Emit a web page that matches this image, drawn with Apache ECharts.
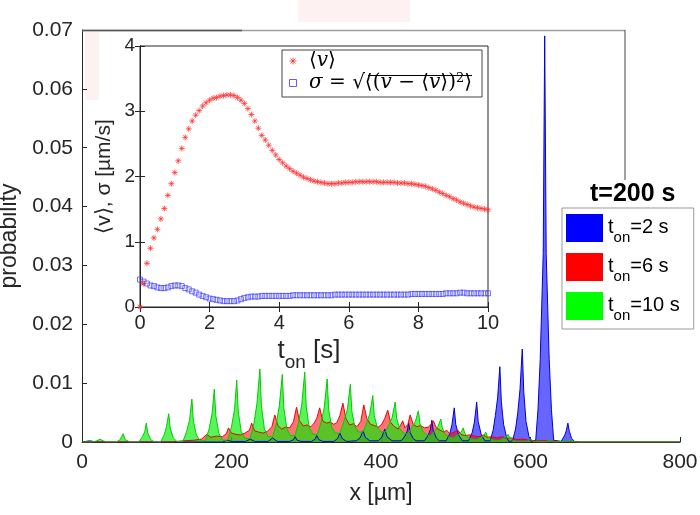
<!DOCTYPE html>
<html><head><meta charset="utf-8">
<script src="https://cdn.jsdelivr.net/npm/echarts@6/dist/echarts.min.js"></script>
<style>html,body{margin:0;padding:0;background:#fff}#c{width:700px;height:515px}</style>
</head><body><div id="c"></div>
<script>
// ---------- data ----------
const seriesNames = ['t_on=2 s', 't_on=6 s', 't_on=10 s'];
const legendTitle = 't=200 s';

// x [µm], probability  (t_on = 2 s)
const blueData = [
[0,0],[5,0.0001],[10,0.0002],[15,0.0001],[22,0],[180,0],
[188,0],[194,0.0003],[200,0.0001],
[219,0.0001],[225,0.0005],[231,0.0001],
[249,0.0001],[255,0.0007],[261,0.0001],
[278,0.0001],[283,0.0004],[285,0.0009],[288,0.0003],[293,0.0001],
[307,0.0001],[312,0.0005],[314,0.0011],[317,0.0004],[322,0.0001],
[337,0.0001],[342,0.0006],[345,0.0015],[348,0.0006],[354,0.0001],
[367,0.0002],[372,0.0007],[376,0.0019],[379,0.0008],[385,0.0002],
[396,0.0002],[401,0.0008],[405,0.0022],[408,0.0009],[415,0.0002],
[427,0.0002],[432,0.0010],[435,0.0018],[437,0.0032],[439,0.0016],[443,0.0006],[447,0.0002],
[458,0.0002],[463,0.0011],[466,0.0021],[468,0.0037],[470,0.0019],[474,0.0007],[478,0.0002],
[487,0.0002],[492,0.0014],[495,0.0030],[498,0.0058],[500,0.0030],[504,0.0011],[509,0.0002],
[517,0.0002],[522,0.0016],[525,0.0034],[528,0.0068],[530,0.0035],[534,0.0013],[539,0.0002],
[546,0.0002],[550,0.0020],[553,0.0045],[556,0.0075],[559,0.0128],[561,0.0068],[564,0.0030],[568,0.0008],[571,0.0001],
[576,0.0002],[580,0.0022],[583,0.0050],[586,0.0090],[589,0.0158],[591,0.0085],[594,0.0035],[598,0.0009],[601,0.0001],
[607,0.0003],[610,0.0055],[613,0.0140],[617,0.0320],[619,0.0690],[621,0.0320],[625,0.0140],[628,0.0055],[631,0.0003],
[641,0.0001],[646,0.0012],[648,0.0020],[650,0.0032],[652,0.0018],[655,0.0006],[659,0.0001],
[665,0],[800,0]
];

// t_on = 6 s
const redData = [
[0,0],[120,0],[135,0.0002],[150,0.0003],[160,0.0005],[167,0.0013],[172,0.0008],[180,0.0010],[188,0.0009],
[193,0.0014],[196,0.0024],[200,0.0015],[206,0.0013],[212,0.0012],[218,0.0015],[224,0.0020],[227,0.0032],
[231,0.0019],[236,0.0017],[242,0.0015],[248,0.0018],[254,0.0026],[258,0.0046],[262,0.0028],[267,0.0022],
[272,0.0025],[278,0.0024],[283,0.0035],[287,0.0059],[291,0.0036],[296,0.0027],[301,0.0029],[306,0.0026],
[310,0.0031],[314,0.0040],[318,0.0058],[322,0.0036],[327,0.0032],[332,0.0034],[337,0.0030],[341,0.0033],
[345,0.0045],[349,0.0066],[353,0.0040],[358,0.0029],[363,0.0031],[368,0.0026],[373,0.0035],[377,0.0063],
[381,0.0040],[386,0.0030],[391,0.0028],[396,0.0025],[401,0.0030],[405,0.0040],[409,0.0054],[413,0.0033],
[418,0.0026],[423,0.0022],[426,0.0028],[429,0.0036],[432,0.0024],[436,0.0030],[439,0.0046],[443,0.0030],
[448,0.0026],[453,0.0028],[458,0.0024],[463,0.0025],[467,0.0030],[470,0.0036],[474,0.0024],[479,0.0020],
[484,0.0017],[488,0.0020],[492,0.0014],[497,0.0016],[503,0.0020],[507,0.0013],[512,0.0011],[519,0.0012],
[525,0.0010],[531,0.0009],[537,0.0012],[542,0.0008],[548,0.0009],[555,0.0007],[562,0.0009],[568,0.0006],
[575,0.0007],[582,0.0004],[590,0.0005],[598,0.0003],[610,0.0002],[625,0.0002],[640,0.0001],[660,0],[800,0]
];

// t_on = 10 s
const greenData = [
[0,0],[14,0],[20,0.0002],[24,0.0005],[28,0.0002],[34,0],
[46,0],[51,0.0004],[55,0.0014],[58,0.0004],[64,0],
[76,0],[81,0.0009],[84,0.0018],[86,0.0032],[88,0.0015],[92,0.0004],[97,0],
[105,0],[110,0.0012],[113,0.0026],[116,0.0048],[118,0.0024],[122,0.0007],[127,0.0001],
[135,0.0001],[140,0.0018],[144,0.0038],[147,0.0073],[149,0.0036],[153,0.0012],[158,0.0002],
[165,0.0002],[170,0.0022],[174,0.0048],[177,0.0090],[179,0.0045],[183,0.0015],[188,0.0003],
[195,0.0003],[200,0.0026],[204,0.0055],[207,0.0105],[209,0.0052],[213,0.0018],[218,0.0006],
[225,0.0006],[230,0.0032],[234,0.0065],[238,0.0124],[240,0.0062],[244,0.0022],[249,0.0009],
[255,0.0009],[260,0.0032],[264,0.0062],[268,0.0115],[270,0.0058],[274,0.0022],[279,0.0011],
[285,0.0011],[290,0.0034],[294,0.0064],[298,0.0119],[300,0.0060],[304,0.0024],[309,0.0013],
[315,0.0013],[320,0.0034],[324,0.0058],[328,0.0107],[330,0.0055],[334,0.0025],[339,0.0015],
[345,0.0015],[350,0.0034],[355,0.0055],[359,0.0098],[361,0.0052],[365,0.0026],[370,0.0017],
[376,0.0017],[381,0.0033],[385,0.0048],[389,0.0079],[391,0.0045],[395,0.0025],[400,0.0017],
[406,0.0017],[411,0.0030],[415,0.0042],[419,0.0068],[421,0.0040],[425,0.0023],[430,0.0015],
[436,0.0014],[441,0.0025],[446,0.0035],[450,0.0053],[452,0.0032],[456,0.0018],[461,0.0012],
[467,0.0011],[472,0.0019],[476,0.0026],[480,0.0039],[482,0.0024],[486,0.0013],[491,0.0008],
[497,0.0007],[503,0.0012],[507,0.0016],[510,0.0024],[512,0.0015],[516,0.0008],[521,0.0005],
[528,0.0004],[534,0.0008],[538,0.0011],[540,0.0017],[542,0.0010],[546,0.0005],[551,0.0003],
[558,0.0002],[564,0.0006],[568,0.0009],[570,0.0013],[572,0.0008],[576,0.0003],[581,0.0001],
[595,0.0001],[600,0.0005],[604,0.0001],[620,0],[626,0.0003],[632,0],[655,0.0002],[662,0],[800,0]
];

// inset: t_on [s], <v> and sigma [µm/s]
const tOn = [0,0.1,0.2,0.3,0.4,0.5,0.6,0.7,0.8,0.9,1,1.1,1.2,1.3,1.4,1.5,1.6,1.7,1.8,1.9,
2,2.1,2.2,2.3,2.4,2.5,2.6,2.7,2.8,2.9,3,3.1,3.2,3.3,3.4,3.5,3.6,3.7,3.8,3.9,
4,4.1,4.2,4.3,4.4,4.5,4.6,4.7,4.8,4.9,5,5.1,5.2,5.3,5.4,5.5,5.6,5.7,5.8,5.9,
6,6.1,6.2,6.3,6.4,6.5,6.6,6.7,6.8,6.9,7,7.1,7.2,7.3,7.4,7.5,7.6,7.7,7.8,7.9,
8,8.1,8.2,8.3,8.4,8.5,8.6,8.7,8.8,8.9,9,9.1,9.2,9.3,9.4,9.5,9.6,9.7,9.8,9.9,10];
const meanV = [0,0.36,0.67,0.9,1.06,1.19,1.35,1.51,1.71,1.89,
2.06,2.24,2.43,2.6,2.73,2.85,2.94,3.01,3.08,3.13,
3.17,3.2,3.21,3.23,3.24,3.25,3.25,3.24,3.21,3.17,
3.12,3.04,2.95,2.85,2.74,2.63,2.56,2.48,2.4,2.33,
2.26,2.21,2.16,2.12,2.08,2.05,2.02,1.99,1.97,1.95,
1.93,1.92,1.91,1.9,1.89,1.89,1.89,1.9,1.9,1.91,
1.91,1.91,1.92,1.92,1.92,1.92,1.92,1.92,1.92,1.91,
1.91,1.91,1.91,1.91,1.9,1.9,1.9,1.89,1.89,1.88,
1.87,1.86,1.85,1.83,1.81,1.79,1.76,1.74,1.71,1.69,
1.66,1.64,1.61,1.59,1.57,1.55,1.53,1.52,1.51,1.5,1.49];
const sigmaV = [0.42,0.39,0.36,0.33,0.32,0.30,0.29,0.29,0.30,0.32,
0.33,0.33,0.32,0.29,0.27,0.24,0.22,0.19,0.17,0.15,
0.13,0.12,0.11,0.10,0.09,0.09,0.09,0.09,0.10,0.12,
0.14,0.15,0.16,0.16,0.16,0.17,0.17,0.17,0.17,0.17,
0.17,0.17,0.17,0.17,0.18,0.18,0.18,0.18,0.18,0.18,
0.18,0.18,0.18,0.18,0.18,0.18,0.19,0.19,0.19,0.19,
0.19,0.19,0.19,0.19,0.19,0.19,0.19,0.19,0.19,0.19,
0.19,0.19,0.19,0.19,0.19,0.19,0.19,0.19,0.20,0.20,
0.20,0.20,0.20,0.20,0.20,0.20,0.20,0.20,0.21,0.21,
0.21,0.21,0.22,0.22,0.21,0.21,0.21,0.21,0.21,0.21,0.21];

const xTicksMain = [0, 200, 400, 600, 800];
const yTicksMain = [0, 0.01, 0.02, 0.03, 0.04, 0.05, 0.06, 0.07];
const xTicksInset = [0, 2, 4, 6, 8, 10];
const yTicksInset = [0, 1, 2, 3, 4];

// ---------- chart ----------
const FONT = 'Liberation Sans';
const SERIF = 'DejaVu Serif';
const AX = '#262626';
const chart = echarts.init(document.getElementById('c'), null, {renderer: 'canvas'});

const pair = (xs, ys) => xs.map((x, i) => [x, ys[i]]);
const legendRich = {
  t: {fontSize: 20, fontFamily: FONT, color: '#000', lineHeight: 22, verticalAlign: 'top'},
  s: {fontSize: 15, fontFamily: FONT, color: '#000', lineHeight: 15, padding: [13, 0, 0, 0], verticalAlign: 'top'}
};
const subFmt = (name) => {
  const m = name.match(/^t_on(.*)$/);
  return m ? '{t|t}{s|on}{t|' + m[1] + '}' : name;
};
const ASTER = 'path://M5 0V10M0 5H10M1.5 1.5L8.5 8.5M1.5 8.5L8.5 1.5';
const SQUARE = 'path://M0 0H10V10H0Z';
const RED_M = '#ff2a2a', BLUE_M = '#3a3aff';

const axisCommon = {
  axisLine: {show: true, lineStyle: {color: AX, width: 1}},
  axisTick: {show: true, inside: true, length: 5, lineStyle: {color: AX}},
  splitLine: {show: false}
};

const option = {
  animation: false,
  backgroundColor: '#fff',
  title: {
    text: legendTitle, left: 585, top: 177,
    textStyle: {fontFamily: FONT, fontSize: 25, fontWeight: 'bold', color: '#000'}
  },
  legend: [{
    data: seriesNames, orient: 'vertical', left: 562, top: 208,
    icon: 'rect', itemWidth: 37, itemHeight: 28, itemGap: 8,
    padding: [6, 14, 6, 4], borderColor: '#999', borderWidth: 1, backgroundColor: '#fff',
    itemStyle: {borderWidth: 0}, lineStyle: {width: 0},
    formatter: subFmt, textStyle: {rich: legendRich}, selectedMode: false
  }, {
    data: [
      {name: 'mean', icon: ASTER, itemStyle: {color: 'rgba(0,0,0,0)', borderColor: RED_M, borderWidth: 1}},
      {name: 'sigma', icon: SQUARE, itemStyle: {color: 'rgba(0,0,0,0)', borderColor: BLUE_M, borderWidth: 1}}
    ],
    orient: 'vertical', left: 282, top: 50,
    itemWidth: 22, itemHeight: 7, itemGap: 1, symbolKeepAspect: true,
    padding: [1, 10, 3, 7], borderColor: '#444', borderWidth: 1, backgroundColor: '#fff',
    selectedMode: false,
    formatter: (n) => n === 'mean'
      ? '{a|⟨}{i|v}{a|⟩}'
      : '{i|σ}{a| = √⟨(}{i|v}{a| − ⟨}{i|v}{a|⟩)}{p|2}{a|⟩}',
    textStyle: {rich: {
      a: {fontFamily: SERIF, fontSize: 20, color: '#000', lineHeight: 24},
      i: {fontFamily: SERIF, fontSize: 20, fontStyle: 'italic', color: '#000', lineHeight: 24},
      p: {fontFamily: SERIF, fontSize: 13, color: '#000', lineHeight: 24, padding: [0, 0, 9, 0]}
    }}
  }],
  grid: [
    {left: 82, right: 20, top: 30, bottom: 73, show: false, outerBoundsMode: 'none', containLabel: false},
    {left: 140, right: 212, top: 46, bottom: 208, show: true, backgroundColor: '#fff', borderColor: AX, borderWidth: 1, z: 3, outerBoundsMode: 'none', containLabel: false}
  ],
  xAxis: [
    Object.assign({}, axisCommon, {
      gridIndex: 0, type: 'value', min: xTicksMain[0], max: xTicksMain[xTicksMain.length - 1],
      interval: xTicksMain[1] - xTicksMain[0],
      axisLabel: {fontFamily: FONT, fontSize: 21, color: AX, margin: 10},
      name: 'x [µm]', nameLocation: 'middle', nameGap: 40,
      nameTextStyle: {fontFamily: FONT, fontSize: 23, color: AX}
    }),
    Object.assign({}, axisCommon, {
      gridIndex: 1, type: 'value', min: xTicksInset[0], max: xTicksInset[xTicksInset.length - 1],
      interval: xTicksInset[1] - xTicksInset[0], z: 4,
      axisLabel: {fontFamily: FONT, fontSize: 20, color: AX, margin: 6},
      name: '{t|t}{s|on}{t| [s]}', nameLocation: 'middle', nameGap: 25,
      nameTextStyle: {padding: [0, 10, 0, 0], rich: {
        t: {fontFamily: FONT, fontSize: 26, color: AX, lineHeight: 26, verticalAlign: 'top'},
        s: {fontFamily: FONT, fontSize: 19, color: AX, lineHeight: 19, padding: [15, 0, 0, 0], verticalAlign: 'top'}
      }}
    }),
    Object.assign({}, axisCommon, {
      gridIndex: 1, type: 'value', position: 'top', min: 0, max: 10, interval: 2, z: 4,
      axisLabel: {show: false}
    })
  ],
  yAxis: [
    Object.assign({}, axisCommon, {
      gridIndex: 0, type: 'value', min: yTicksMain[0], max: yTicksMain[yTicksMain.length - 1],
      interval: 0.01,
      axisLabel: {fontFamily: FONT, fontSize: 21, color: AX, margin: 9},
      name: 'probability', nameLocation: 'middle', nameGap: 54,
      nameTextStyle: {fontFamily: FONT, fontSize: 23, color: AX}
    }),
    Object.assign({}, axisCommon, {
      gridIndex: 1, type: 'value', min: yTicksInset[0], max: yTicksInset[yTicksInset.length - 1],
      interval: yTicksInset[1] - yTicksInset[0], z: 4,
      axisLabel: {fontFamily: FONT, fontSize: 19, color: AX, margin: 5},
      name: '⟨v⟩, σ [µm/s]', nameLocation: 'middle', nameGap: 25,
      nameTextStyle: {fontFamily: FONT, fontSize: 21, color: AX}
    }),
    Object.assign({}, axisCommon, {
      gridIndex: 1, type: 'value', position: 'right', min: 0, max: 4, interval: 1, z: 4,
      axisLabel: {show: false}
    })
  ],
  series: [
    {
      name: seriesNames[0], type: 'line', xAxisIndex: 0, yAxisIndex: 0, data: blueData,
      symbol: 'none', showSymbol: false, z: 2,
      itemStyle: {color: '#0000ff'}, lineStyle: {color: '#0000dd', width: 1},
      areaStyle: {color: '#0000ff', opacity: 0.6}
    },
    {
      name: seriesNames[1], type: 'line', xAxisIndex: 0, yAxisIndex: 0, data: redData,
      symbol: 'none', showSymbol: false, z: 2,
      itemStyle: {color: '#ff0000'}, lineStyle: {color: '#ee0000', width: 1},
      areaStyle: {color: '#ff0000', opacity: 0.55}
    },
    {
      name: seriesNames[2], type: 'line', xAxisIndex: 0, yAxisIndex: 0, data: greenData,
      symbol: 'none', showSymbol: false, z: 2,
      itemStyle: {color: '#00ff00'}, lineStyle: {color: '#00cc00', width: 1},
      areaStyle: {color: '#00ee00', opacity: 0.65}
    },
    {
      name: 'sigma', type: 'scatter', xAxisIndex: 1, yAxisIndex: 1, data: pair(tOn, sigmaV),
      symbol: SQUARE, symbolSize: 5, z: 5,
      itemStyle: {color: 'rgba(0,0,0,0)', borderColor: BLUE_M, borderWidth: 0.9}
    },
    {
      name: 'mean', type: 'scatter', xAxisIndex: 1, yAxisIndex: 1, data: pair(tOn, meanV),
      symbol: ASTER, symbolSize: 6, z: 5,
      itemStyle: {color: 'rgba(0,0,0,0)', borderColor: RED_M, borderWidth: 0.9}
    }
  ],
  graphic: [
    {type: 'rect', shape: {x: 298, y: 0, width: 112, height: 22}, style: {fill: '#fdf1f1'}, z: -10, silent: true},
    {type: 'rect', shape: {x: 85, y: 32, width: 14, height: 68}, style: {fill: '#fdf1f1'}, z: -10, silent: true},
    {type: 'line', shape: {x1: 82, y1: 30.5, x2: 625, y2: 30.5}, style: {stroke: '#a0a0a0', lineWidth: 1.5}, z: 1, silent: true},
    {type: 'line', shape: {x1: 82, y1: 30.5, x2: 242, y2: 30.5}, style: {stroke: '#555', lineWidth: 1.5}, z: 1, silent: true},
    {type: 'line', shape: {x1: 625, y1: 30, x2: 625, y2: 180}, style: {stroke: '#444', lineWidth: 1}, z: 1, silent: true},
    {type: 'line', shape: {x1: 368, y1: 75.5, x2: 472, y2: 75.5}, style: {stroke: '#000', lineWidth: 1}, z: 100, silent: true}
  ]
};
chart.setOption(option);
</script>
</body></html>
